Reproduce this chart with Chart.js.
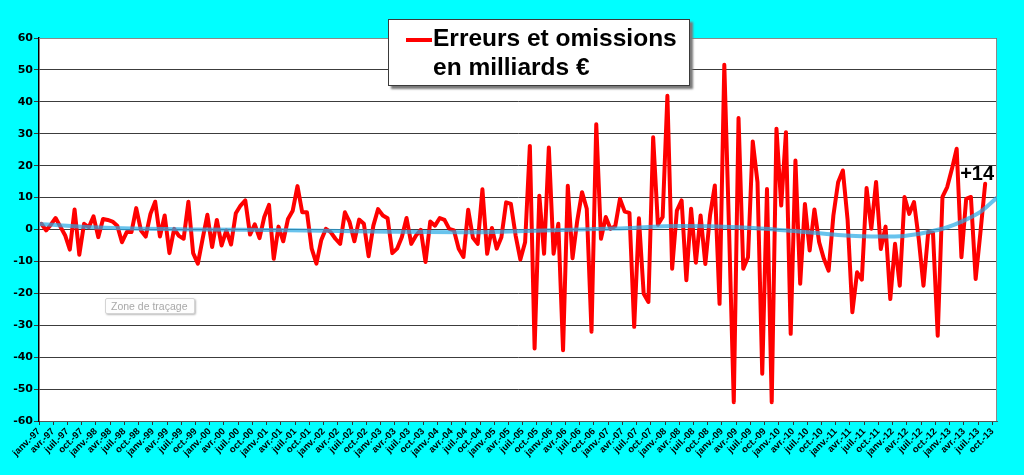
<!DOCTYPE html>
<html>
<head>
<meta charset="utf-8">
<script src="https://cdn.jsdelivr.net/npm/chart.js@4.4.1/dist/chart.umd.min.js"></script>
<style>
  html, body { margin: 0; padding: 0; background: #00FFFF; }
  #wrap { position: relative; width: 1024px; height: 475px; overflow: hidden; }
  #legendBox {
    position: absolute; left: 388px; top: 19px; width: 302px; height: 67px;
    background: #fff; border: 1px solid #3a3a3a; box-shadow: 3px 3px 2px #7a7a7a;
    box-sizing: border-box;
  }
  #legendLine { position: absolute; left: 17px; top: 18px; width: 26px; height: 4px; background: #FF0000; }
  #legendText {
    position: absolute; left: 44px; top: 4px; font: bold 24.5px "Liberation Sans", Arial, sans-serif;
    line-height: 28.5px; color: #000; white-space: nowrap;
  }
  #zone {
    position: absolute; left: 105px; top: 298px; width: 90px; height: 16px;
    background: #fdfdfd; border: 1px solid #d4d4d4; border-radius: 2px;
    box-shadow: 1px 1px 2px #bbb; box-sizing: border-box;
    font: 10.5px "Liberation Sans", Arial, sans-serif; color: #a8a8a8; line-height: 14px; padding-left: 5px;
    white-space: nowrap;
  }
</style>
</head>
<body>
<div id="wrap">
  <canvas id="c" width="1024" height="475"></canvas>
  <div id="legendBox"><div id="legendLine"></div><div id="legendText">Erreurs et omissions<br>en milliards €</div></div>
  <div id="zone">Zone de traçage</div>
</div>
<script>
// ---- Data (monthly, janv. 1997 onward) ----
const quarterNames = ['janv.', 'avr.', 'juil.', 'oct.'];
const years = ['97','98','99','00','01','02','03','04','05','06','07','08','09','10','11','12','13'];
const tickLabels = years.flatMap(y => quarterNames.map(q => q + '-' + y));

const values = [
  1.8, -0.3, 1.5, 3.6, 0.9, -1.8, -6.3, 6.3, -7.9, 1.8, 0.7, 4.1,
  -2.4, 3.3, 3.0, 2.5, 1.2, -4.0, -0.8, -0.8, 6.7, -0.3, -2.2, 4.9,
  8.7, -2.2, 4.4, -7.4, 0.2, -2.0, -2.9, 8.7, -7.4, -10.7, -2.9, 4.6,
  -5.5, 3.0, -5.0, -0.3, -4.7, 5.1, 7.5, 9.1, -1.6, 1.6, -2.7, 3.9,
  7.7, -9.2, 0.9, -3.7, 3.3, 5.9, 13.6, 5.4, 5.4, -6.0, -10.7, -3.4,
  0.2, -0.8, -2.9, -4.5, 5.4, 2.3, -3.7, 3.1, 1.8, -8.4, 1.2, 6.4,
  4.4, 3.5, -7.4, -6.0, -2.4, 3.6, -4.5, -1.9, -0.1, -10.2, 2.5, 1.2,
  3.6, 3.0, 0.2, -0.3, -6.0, -8.6, 6.2, -2.6, -4.5, 12.6, -7.6, 0.5,
  -6.0, -2.4, 8.5, 8.0, -1.9, -9.4, -4.0, 26.2, -37.3, 10.6, -7.6, 25.7,
  -7.6, 1.8, -37.8, 13.7, -9.0, 2.8, 11.7, 6.5, -32.0, 33.0, -2.9, 3.9,
  0.2, 1.0, 9.6, 5.6, 5.2, -30.5, 3.5, -20.1, -22.7, 28.9, 1.5, 3.9,
  41.9, -12.3, 5.9, 9.1, -15.9, 6.5, -10.4, 4.4, -10.8, 4.5, 13.8, -23.3,
  51.6, 0.0, -54.1, 34.9, -12.3, -8.7, 27.6, 14.8, -45.2, 12.7, -54.1, 31.6,
  7.5, 30.5, -32.7, 21.6, -17.0, 8.0, -6.6, 6.3, -4.0, -9.2, -12.9, 4.4,
  14.8, 18.5, 3.0, -25.9, -13.4, -15.7, 13.0, 0.2, 14.9, -6.1, 0.9, -21.8,
  -4.5, -17.6, 10.2, 4.9, 8.6, -3.0, -17.6, -0.8, -1.0, -33.3, 10.2, 13.3,
  19.0, 25.3, -8.7, 9.6, 10.2, -15.5, -1.0, 14.3
];

// trend curve (month index, value)
const trendX = [-0.5, 12, 33, 52, 73, 88, 102, 121, 135, 147, 158, 168, 177, 182, 187, 191, 194.5, 198, 201.5];
const trendY = [1.7, 0.6, 0.0, -0.2, -0.7, -0.9, -0.5, 0.3, 1.1, 0.7, -0.4, -1.7, -2.2, -2.0, -0.8, 0.7, 2.8, 5.5, 10.0];

const lastLabel = '+14';
const yTicks = { min: -60, max: 60, step: 10 };

// ---- Chart ----
const bgPlugin = {
  id: 'bg',
  beforeDraw(chart) {
    const { ctx, chartArea: a } = chart;
    ctx.save();
    ctx.fillStyle = '#00FFFF';
    ctx.fillRect(0, 0, chart.width, chart.height);
    ctx.fillStyle = '#FFFFFF';
    ctx.fillRect(a.left, a.top, a.right - a.left, a.bottom - a.top);
    ctx.restore();
  },
  beforeDatasetsDraw(chart) {
    const { ctx, chartArea: a } = chart;
    ctx.save();
    ctx.strokeStyle = '#8a8a8a';
    ctx.lineWidth = 1;
    ctx.beginPath();
    ctx.moveTo(a.left, a.top + 0.5);
    ctx.lineTo(a.right - 0.5, a.top + 0.5);
    ctx.lineTo(a.right - 0.5, a.bottom);
    ctx.stroke();
    ctx.restore();
  },
  afterDatasetsDraw(chart) {
    const { ctx } = chart;
    const xs = chart.scales.x, ys = chart.scales.y;
    const i = values.length - 1;
    const px = xs.getPixelForValue(i), py = ys.getPixelForValue(values[i]);
    ctx.save();
    ctx.font = 'bold 20px "Liberation Sans", Arial, sans-serif';
    ctx.fillStyle = '#000';
    ctx.textAlign = 'left';
    ctx.textBaseline = 'alphabetic';
    ctx.fillText(lastLabel, px - 25, py - 3.5);
    ctx.restore();
  }
};

new Chart(document.getElementById('c'), {
  type: 'line',
  data: {
    datasets: [
      {
        label: 'Tendance',
        data: trendX.map((x, k) => ({ x: x, y: trendY[k] })),
        borderColor: 'rgba(40,170,230,0.7)',
        borderWidth: 4,
        pointRadius: 0,
        cubicInterpolationMode: 'monotone',
        order: 0
      },
      {
        label: 'Erreurs et omissions en milliards €',
        data: values.map((v, k) => ({ x: k, y: v })),
        borderColor: '#FF0000',
        borderWidth: 4,
        pointRadius: 0,
        tension: 0,
        borderJoinStyle: 'round',
        borderCapStyle: 'round',
        order: 1
      }
    ]
  },
  options: {
    responsive: false,
    animation: false,
    events: [],
    layout: { padding: { top: 38, right: 27, left: 0, bottom: 0 } },
    plugins: { legend: { display: false }, tooltip: { enabled: false }, title: { display: false } },
    scales: {
      x: {
        type: 'linear',
        min: -0.5,
        max: 201.5,
        afterBuildTicks(scale) {
          scale.ticks = tickLabels.map((_, k) => ({ value: -0.5 + 3 * k }));
        },
        afterFit(scale) { scale.height = 54; },
        ticks: {
          autoSkip: false,
          maxRotation: 45,
          minRotation: 45,
          padding: 1,
          color: '#000',
          font: { family: '"Liberation Sans", Arial, sans-serif', size: 9.5, weight: 'bold' },
          callback(value) {
            const k = Math.round((value + 0.5) / 3);
            return tickLabels[k] ?? '';
          }
        },
        grid: { drawOnChartArea: false, tickLength: 4, color: '#333', lineWidth: 1 },
        border: { color: '#555', width: 1 }
      },
      y: {
        min: yTicks.min,
        max: yTicks.max,
        afterFit(scale) { scale.width = 39; },
        ticks: {
          stepSize: yTicks.step,
          padding: 1,
          color: '#000',
          font: { family: '"DejaVu Sans", sans-serif', size: 11, weight: 'bold' }
        },
        grid: { color: '#3c3c3c', lineWidth: 1, tickLength: 5 },
        border: { color: '#000', width: 1.5 }
      }
    }
  },
  plugins: [bgPlugin]
});
</script>
</body>
</html>
